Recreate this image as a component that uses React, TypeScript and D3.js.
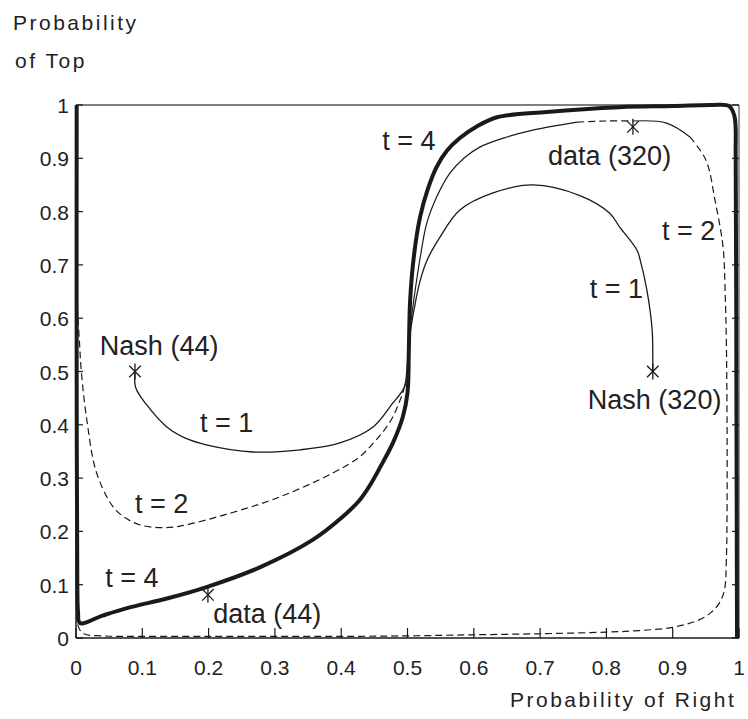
import React, { useEffect, useRef } from "react";
import * as d3 from "d3";

// tick values and labels (same on both axes)
const tickValues = [0, 0.1, 0.2, 0.3, 0.4, 0.5, 0.6, 0.7, 0.8, 0.9, 1];
const tickLabels = ["0", "0.1", "0.2", "0.3", "0.4", "0.5", "0.6", "0.7", "0.8", "0.9", "1"];

// t = 4 trajectory (thick)
const t4Path: [number, number][] = [
  [0.001, 1.0], [0.001, 0.5], [0.002, 0.1], [0.003, 0.05], [0.006, 0.028],
  [0.04, 0.042], [0.077, 0.056], [0.14, 0.075], [0.198, 0.096], [0.278, 0.133],
  [0.357, 0.184], [0.4, 0.225], [0.428, 0.259], [0.445, 0.29], [0.459, 0.321],
  [0.478, 0.366], [0.493, 0.415], [0.5, 0.46], [0.502, 0.54], [0.504, 0.634],
  [0.51, 0.72], [0.519, 0.79], [0.53, 0.84], [0.544, 0.884], [0.56, 0.915],
  [0.579, 0.938], [0.605, 0.96], [0.635, 0.977], [0.71, 0.987], [0.82, 0.996],
  [0.9, 0.998], [0.96, 1.0], [0.985, 0.998], [0.993, 0.98], [0.995, 0.9],
  [0.996, 0.5], [0.997, 0.0],
];

// t = 1 trajectory, Nash (44) -> Nash (320)
const t1Path: [number, number][] = [
  [0.089, 0.5], [0.09, 0.47], [0.105, 0.44], [0.137, 0.396], [0.165, 0.375],
  [0.198, 0.362], [0.267, 0.349], [0.338, 0.353], [0.398, 0.366], [0.448, 0.396],
  [0.478, 0.441], [0.493, 0.465], [0.499, 0.484], [0.501, 0.52], [0.505, 0.58],
  [0.512, 0.63], [0.519, 0.67], [0.53, 0.71], [0.549, 0.752], [0.579, 0.803],
  [0.629, 0.835], [0.689, 0.85], [0.76, 0.83], [0.805, 0.797], [0.82, 0.771],
  [0.846, 0.728], [0.851, 0.709], [0.861, 0.653], [0.869, 0.578], [0.87, 0.516],
  [0.87, 0.5],
];

// t = 2 trajectory, split where the line style changes
const t2Rise: [number, number][] = [
  [0.493, 0.46], [0.497, 0.48], [0.5, 0.52], [0.504, 0.58], [0.509, 0.63],
  [0.52, 0.72], [0.529, 0.778], [0.545, 0.83], [0.564, 0.872], [0.585, 0.9],
  [0.609, 0.921], [0.65, 0.94], [0.689, 0.953], [0.756, 0.968],
];
const t2Top: [number, number][] = [[0.756, 0.968], [0.8, 0.97], [0.84, 0.97]];
const t2Turn: [number, number][] = [[0.84, 0.97], [0.891, 0.966], [0.926, 0.94]];
const t2Outer: [number, number][] = [
  [0.926, 0.94], [0.95, 0.897], [0.964, 0.82], [0.976, 0.733], [0.979, 0.653],
  [0.981, 0.55], [0.982, 0.4], [0.982, 0.25], [0.981, 0.15], [0.978, 0.09],
  [0.97, 0.065], [0.958, 0.048], [0.94, 0.034], [0.9, 0.02], [0.85, 0.014],
  [0.8, 0.011], [0.7, 0.008], [0.6, 0.006], [0.5, 0.004], [0.4, 0.003],
  [0.3, 0.003], [0.2, 0.003], [0.1, 0.003], [0.04, 0.004], [0.012, 0.008],
  [0.004, 0.02], [0.002, 0.1], [0.002, 0.3], [0.002, 0.5], [0.002, 0.62],
];
const t2Inner: [number, number][] = [
  [0.002, 0.62], [0.005, 0.56], [0.008, 0.5], [0.017, 0.403], [0.031, 0.31],
  [0.056, 0.246], [0.075, 0.225], [0.097, 0.212], [0.127, 0.207], [0.157, 0.21],
  [0.232, 0.234], [0.308, 0.265], [0.388, 0.31], [0.428, 0.34], [0.448, 0.365],
  [0.465, 0.39], [0.478, 0.415], [0.489, 0.447], [0.493, 0.46],
];

// asterisk markers: Nash (44), Nash (320), data (44), data (320)
const stars: [number, number][] = [[0.089, 0.5], [0.87, 0.5], [0.199, 0.081], [0.84, 0.959]];

// annotations (text start, baseline) in data units
const noteText = ["Nash (44)", "t = 1", "t = 2", "t = 4", "data (44)", "t = 4", "data (320)", "t = 2", "t = 1", "Nash (320)"];
const notePos: [number, number][] = [
  [0.036, 0.531], [0.187, 0.386], [0.089, 0.235], [0.044, 0.096], [0.207, 0.028],
  [0.462, 0.916], [0.712, 0.888], [0.884, 0.747], [0.775, 0.638], [0.772, 0.43],
];

const App = () => {
  const ref = useRef<SVGSVGElement>(null);

  useEffect(() => {
    const svg = d3.select(ref.current);
    svg.selectAll("*").remove();

    const x = d3.scaleLinear().domain([0, 1]).range([76, 739]);
    const y = d3.scaleLinear().domain([0, 1]).range([638, 105]);
    const font = "'Liberation Sans', Arial, sans-serif";
    const ink = "#1a1a1a";

    const line = d3
      .line<[number, number]>()
      .x((d) => x(d[0]))
      .y((d) => y(d[1]))
      .curve(d3.curveCatmullRom.alpha(0.5));

    const drawPath = (pts: [number, number][], w: number, dash: string | null) => {
      svg.append("path")
        .attr("d", line(pts))
        .attr("fill", "none")
        .attr("stroke", ink)
        .attr("stroke-width", w)
        .attr("stroke-dasharray", dash)
        .attr("stroke-linejoin", "round");
    };

    // frame
    svg.append("line").attr("x1", x(0)).attr("x2", x(1)).attr("y1", y(1)).attr("y2", y(1))
      .attr("stroke", "#555").attr("stroke-width", 1.4);
    svg.append("line").attr("x1", x(1)).attr("x2", x(1)).attr("y1", y(0)).attr("y2", y(1))
      .attr("stroke", "#555").attr("stroke-width", 1.2);
    svg.append("line").attr("x1", x(0)).attr("x2", x(1)).attr("y1", y(0)).attr("y2", y(0))
      .attr("stroke", ink).attr("stroke-width", 1.5);
    svg.append("line").attr("x1", x(0)).attr("x2", x(0)).attr("y1", y(0)).attr("y2", y(1))
      .attr("stroke", ink).attr("stroke-width", 1.5);

    // ticks
    tickValues.forEach((v, i) => {
      svg.append("line").attr("x1", x(v)).attr("x2", x(v)).attr("y1", y(0)).attr("y2", y(0) - 10)
        .attr("stroke", ink).attr("stroke-width", 1.2);
      svg.append("line").attr("x1", x(0)).attr("x2", x(0) + 7).attr("y1", y(v)).attr("y2", y(v))
        .attr("stroke", ink).attr("stroke-width", 1.2);
      svg.append("line").attr("x1", x(1)).attr("x2", x(1) - 7).attr("y1", y(v)).attr("y2", y(v))
        .attr("stroke", ink).attr("stroke-width", 1.2);

      svg.append("text").attr("x", x(v)).attr("y", y(0) + 37)
        .attr("text-anchor", "middle").attr("font-family", font).attr("font-size", 21)
        .attr("fill", "#222").text(tickLabels[i]);
      svg.append("text").attr("x", x(0) - 7).attr("y", y(v) + 8)
        .attr("text-anchor", "end").attr("font-family", font).attr("font-size", 21)
        .attr("fill", "#222").text(tickLabels[i]);
    });

    // trajectories
    drawPath(t2Rise, 1.2, null);
    drawPath(t2Top, 1.2, "7,4");
    drawPath(t2Turn, 1.2, null);
    drawPath(t2Outer, 1.2, "7,4");
    drawPath(t2Inner, 1.2, "7,4");
    drawPath(t1Path, 1.3, null);
    drawPath(t4Path, 4, null);

    // asterisks
    const r = 8;
    stars.forEach((s) => {
      const cx = x(s[0]);
      const cy = y(s[1]);
      const g = svg.append("g").attr("stroke", ink).attr("stroke-width", 1.3);
      g.append("line").attr("x1", cx).attr("x2", cx).attr("y1", cy - r).attr("y2", cy + r);
      g.append("line").attr("x1", cx - r * 0.72).attr("x2", cx + r * 0.72).attr("y1", cy - r * 0.72).attr("y2", cy + r * 0.72);
      g.append("line").attr("x1", cx - r * 0.72).attr("x2", cx + r * 0.72).attr("y1", cy + r * 0.72).attr("y2", cy - r * 0.72);
    });

    // annotations
    noteText.forEach((t, i) => {
      svg.append("text").attr("x", x(notePos[i][0])).attr("y", y(notePos[i][1]))
        .attr("font-family", font).attr("font-size", 27).attr("fill", "#222")
        .attr("xml:space", "preserve").style("white-space", "pre").text(t);
    });

    // axis titles
    svg.append("text").attr("x", 13).attr("y", 30).attr("font-family", font)
      .attr("font-size", 21).attr("letter-spacing", 2.5).attr("fill", "#222").text("Probability");
    svg.append("text").attr("x", 15).attr("y", 68).attr("font-family", font)
      .attr("font-size", 21).attr("letter-spacing", 2.5).attr("fill", "#222").text("of Top");
    svg.append("text").attr("x", 510).attr("y", 707).attr("font-family", font)
      .attr("font-size", 21).attr("letter-spacing", 2.5).attr("fill", "#222").text("Probability of Right");
  }, []);

  return (
    <div style={{ position: "absolute", left: 0, top: 0 }}>
      <svg ref={ref} width={748} height={719} style={{ display: "block", background: "#fff" }} />
    </div>
  );
};

export default App;
